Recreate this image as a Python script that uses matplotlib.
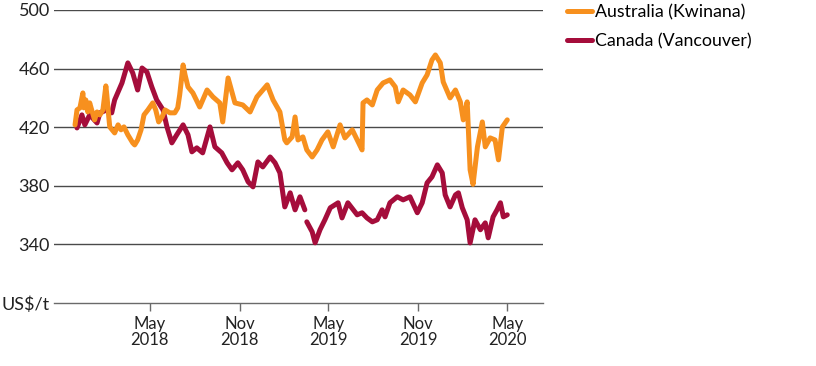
import matplotlib
matplotlib.use("Agg")
import matplotlib.pyplot as plt
import numpy as np
import pandas as pd

# Australia (Kwinana), US$/t
aus_dates = ["2017-11-29", "2017-12-03", "2017-12-09", "2017-12-15", "2017-12-17", "2017-12-21",
             "2017-12-25", "2017-12-29", "2018-01-02", "2018-01-08", "2018-01-13", "2018-01-19",
             "2018-01-25", "2018-01-31", "2018-02-02", "2018-02-06", "2018-02-08", "2018-02-18",
             "2018-02-25", "2018-03-03", "2018-03-09", "2018-03-17", "2018-03-27", "2018-03-31",
             "2018-04-06", "2018-04-13", "2018-04-19", "2018-04-27", "2018-05-07", "2018-05-13",
             "2018-05-19", "2018-05-26", "2018-06-01", "2018-06-11", "2018-06-21", "2018-06-27",
             "2018-07-01", "2018-07-08", "2018-07-12", "2018-07-18", "2018-07-28", "2018-08-11",
             "2018-08-26", "2018-09-07", "2018-09-21", "2018-09-27", "2018-10-08", "2018-10-22",
             "2018-11-07", "2018-11-22", "2018-12-06", "2018-12-27", "2019-01-08", "2019-01-22",
             "2019-02-01", "2019-02-05", "2019-02-16", "2019-02-22", "2019-02-28", "2019-03-10",
             "2019-03-18", "2019-03-29", "2019-04-08", "2019-04-18", "2019-04-30", "2019-05-11",
             "2019-05-25", "2019-06-04", "2019-06-19", "2019-07-01", "2019-07-09", "2019-07-11",
             "2019-07-19", "2019-07-30", "2019-08-09", "2019-08-21", "2019-09-04", "2019-09-15",
             "2019-09-21", "2019-10-01", "2019-10-15", "2019-10-26", "2019-11-09", "2019-11-19",
             "2019-11-29", "2019-12-06", "2019-12-16", "2019-12-22", "2020-01-05", "2020-01-16",
             "2020-01-26", "2020-02-01", "2020-02-09", "2020-02-15", "2020-02-21", "2020-03-01",
             "2020-03-11", "2020-03-17", "2020-03-27", "2020-04-06", "2020-04-13", "2020-04-21",
             "2020-05-01"]
aus_vals = [421.6, 431.8, 433.2, 443.4, 433.2, 438.6,
            430.4, 436.6, 431.8, 425.0, 430.4, 428.4,
            431.8, 448.2, 442.0, 427.0, 420.2, 416.1,
            421.6, 418.2, 420.2, 414.8, 409.3, 407.9,
            411.3, 418.2, 428.4, 431.8, 436.6, 431.8,
            423.6, 427.0, 431.8, 429.8, 429.8, 433.2,
            442.0, 462.5, 455.7, 447.5, 443.4, 433.8,
            445.4, 440.7, 436.6, 423.6, 453.6, 436.6,
            435.2, 430.4, 440.7, 448.9, 438.6, 430.4,
            411.3, 409.3, 413.4, 427.0, 411.3, 413.4,
            404.5, 399.7, 404.5, 411.3, 416.8, 406.6,
            421.6, 412.7, 418.2, 410.0, 404.5, 436.6,
            438.6, 435.2, 445.4, 450.2, 452.3, 447.5,
            437.3, 445.4, 442.0, 437.3, 450.2, 455.7,
            465.9, 469.3, 463.9, 450.9, 440.0, 445.4,
            437.3, 425.0, 437.3, 390.9, 381.0, 406.6,
            423.6, 406.6, 412.7, 411.3, 397.7, 420.2,
            425.0]

# Canada (Vancouver), US$/t  (None = gap in the series)
can_dates = ["2017-12-03", "2017-12-13", "2017-12-19", "2017-12-29", "2018-01-13", "2018-01-19",
             "2018-02-02", "2018-02-12", "2018-02-18", "2018-03-05", "2018-03-17", "2018-03-27",
             "2018-04-06", "2018-04-15", "2018-04-25", "2018-05-05", "2018-05-15", "2018-05-28",
             "2018-06-05", "2018-06-15", "2018-06-25", "2018-07-08", "2018-07-18", "2018-07-26",
             "2018-08-05", "2018-08-17", "2018-09-01", "2018-09-11", "2018-09-25", "2018-10-06",
             "2018-10-16", "2018-10-28", "2018-11-07", "2018-11-18", "2018-11-28", "2018-12-08",
             "2018-12-18", "2019-01-02", "2019-01-12", "2019-01-22", "2019-02-01", "2019-02-12",
             "2019-02-22", "2019-03-04", "2019-03-14", "2019-03-16", "2019-03-18", "2019-03-29",
             "2019-04-04", "2019-04-14", "2019-04-24", "2019-05-05", "2019-05-21", "2019-05-29",
             "2019-06-10", "2019-06-29", "2019-07-09", "2019-07-19", "2019-07-30", "2019-08-09",
             "2019-08-19", "2019-08-25", "2019-09-04", "2019-09-19", "2019-10-01", "2019-10-15",
             "2019-10-30", "2019-11-09", "2019-11-19", "2019-11-29", "2019-12-10", "2019-12-20",
             "2019-12-26", "2020-01-05", "2020-01-16", "2020-01-22", "2020-01-30", "2020-02-09",
             "2020-02-15", "2020-02-25", "2020-03-07", "2020-03-17", "2020-03-23", "2020-04-02",
             "2020-04-10", "2020-04-17", "2020-04-23", "2020-05-01"]
can_vals = [419.5, 428.4, 421.6, 428.4, 422.9, 429.8,
            431.8, 429.8, 438.6, 450.2, 463.9, 457.0,
            445.4, 460.4, 457.7, 447.5, 438.6, 431.8,
            420.2, 409.3, 414.8, 421.6, 414.8, 403.2,
            405.9, 402.5, 420.2, 406.6, 402.5, 395.7,
            390.9, 395.7, 390.9, 382.7, 379.3, 396.3,
            392.9, 399.7, 395.7, 388.8, 365.6, 375.2,
            363.6, 372.5, 363.6, None, 355.4, 348.6,
            341.1, 350.0, 356.8, 365.0, 368.4, 358.1,
            368.4, 360.2, 361.6, 358.1, 355.4, 356.8,
            363.6, 358.8, 368.4, 372.5, 370.4, 372.5,
            361.6, 368.4, 382.0, 386.1, 394.3, 388.8,
            373.8, 365.6, 373.8, 375.2, 365.0, 356.8,
            341.0, 356.8, 350.0, 354.7, 344.5, 358.8,
            363.6, 368.4, 358.8, 360.2]

tick_dates = ["2018-05-01", "2018-11-01", "2019-05-01", "2019-11-01", "2020-05-01"]
tick_labels = ["May\n2018", "Nov\n2018", "May\n2019", "Nov\n2019", "May\n2020"]
y_ticks = [300, 340, 380, 420, 460, 500]
y_labels = ["US$/t", "340", "380", "420", "460", "500"]

orange = "#F7901E"
crimson = "#A50D3B"

plt.rcParams["font.family"] = ["Lato", "DejaVu Sans"]

fig = plt.figure(figsize=(8.16, 3.66), dpi=100)
ax = fig.add_axes([0.0662, 0.1721, 0.5992, 0.8006])

aus_x = pd.to_datetime(aus_dates)
can_x = pd.to_datetime(can_dates)
can_y = np.array([np.nan if v is None else v for v in can_vals], dtype=float)

ax.plot(can_x, can_y, color=crimson, lw=3.6, solid_capstyle="round", solid_joinstyle="round",
        label="Canada (Vancouver)", zorder=3)
ax.plot(aus_x, aus_vals, color=orange, lw=3.6, solid_capstyle="round", solid_joinstyle="round",
        label="Australia (Kwinana)", zorder=4)

ax.set_ylim(300, 500)
ax.set_xlim(pd.Timestamp("2017-10-17"), pd.Timestamp("2020-07-13"))

ax.set_yticks(y_ticks)
ax.set_yticklabels(y_labels)
ax.set_xticks(pd.to_datetime(tick_dates))
ax.set_xticklabels(tick_labels)

for v in y_ticks[1:]:
    ax.axhline(v, color="#4a4a4a", lw=1.0, zorder=1)

for s in ["left", "right", "top"]:
    ax.spines[s].set_visible(False)
ax.spines["bottom"].set_color("#6a6a6a")
ax.spines["bottom"].set_linewidth(1.0)

ax.tick_params(axis="y", length=0, pad=3, labelsize=13, colors="#222222")
ax.tick_params(axis="x", length=6, width=1, color="#6a6a6a", pad=3, labelsize=12, labelcolor="#222222")
for lab in ax.get_xticklabels():
    lab.set_linespacing(1.0)

handles, labels = ax.get_legend_handles_labels()
leg = fig.legend(handles[::-1], labels[::-1], loc="upper left", bbox_to_anchor=(0.695, 0.988),
                 frameon=False, fontsize=12.8, handlelength=1.42, handletextpad=0.15,
                 labelspacing=0.72, borderpad=0, borderaxespad=0)
for line in leg.get_lines():
    line.set_linewidth(3.6)

fig.savefig("out.png", dpi=100)
